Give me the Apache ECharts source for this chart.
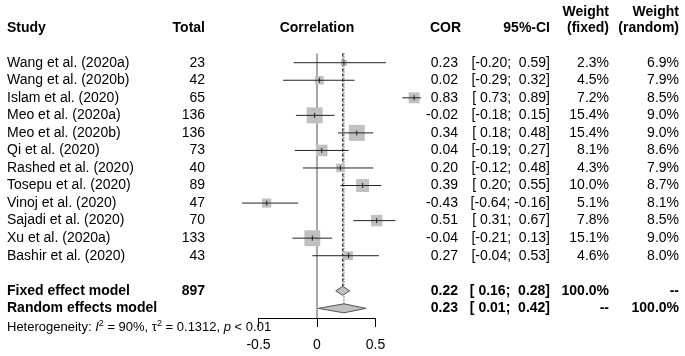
<!DOCTYPE html>
<html>
<head>
<meta charset="utf-8">
<script src="https://cdn.jsdelivr.net/npm/echarts@6/dist/echarts.min.js"></script>
<style>
html, body { margin: 0; padding: 0; background: #fff; }
#chart { width: 685px; height: 356px; }
</style>
</head>
<body>
<div id="chart"></div>
<script>
// values
var studies = ['Wang et al. (2020a)', 'Wang et al. (2020b)', 'Islam et al. (2020)', 'Meo et al. (2020a)',
  'Meo et al. (2020b)', 'Qi et al. (2020)', 'Rashed et al. (2020)', 'Tosepu et al. (2020)',
  'Vinoj et al. (2020)', 'Sajadi et al. (2020)', 'Xu et al. (2020a)', 'Bashir et al. (2020)']
var totals = [23, 42, 65, 136, 136, 73, 40, 89, 47, 70, 133, 43]
var cor = [0.23, 0.02, 0.83, -0.02, 0.34, 0.04, 0.20, 0.39, -0.43, 0.51, -0.04, 0.27]
var ciLow = [-0.20, -0.29, 0.73, -0.18, 0.18, -0.19, -0.12, 0.20, -0.64, 0.31, -0.21, -0.04]
var ciHigh = [0.59, 0.32, 0.89, 0.15, 0.48, 0.27, 0.48, 0.55, -0.16, 0.67, 0.13, 0.53]
var wFixed = [2.3, 4.5, 7.2, 15.4, 15.4, 8.1, 4.3, 10.0, 5.1, 7.8, 15.1, 4.6]
var wRandom = [6.9, 7.9, 8.5, 9.0, 9.0, 8.6, 7.9, 8.7, 8.1, 8.5, 9.0, 8.0]

var pooledLabels = ['Fixed effect model', 'Random effects model']
var pooledTotal = [897, null]
var pooledCor = [0.22, 0.23]
var pooledLow = [0.16, 0.01]
var pooledHigh = [0.28, 0.42]
var pooledWFixed = [100, null]
var pooledWRandom = [null, 100]

var hetI2 = 90
var hetTau2 = 0.1312
var hetP = '< 0.01'

var xTicks = [-0.5, 0, 0.5]

var FONT = '"Liberation Sans", Arial, Helvetica, sans-serif'
var boxScale = 4.08
var fixedRow = studies.length + 1
var randomRow = studies.length + 2

function f2(v) { return v.toFixed(2) }
function ci(lo, hi) {
  var a = lo < 0 ? f2(lo) : ' ' + f2(lo)
  var b = hi < 0 ? f2(hi) : ' ' + f2(hi)
  return '[' + a + '; ' + b + ']'
}
function pct(v) { return v == null ? '--' : v.toFixed(1) + '%' }

// text table (columns: study, total, cor, ci, weight fixed, weight random)
var cols = [
  { x: 7, align: 'left' },
  { x: 205, align: 'right' },
  { x: 458, align: 'right' },
  { x: 550, align: 'right' },
  { x: 609, align: 'right' },
  { x: 679, align: 'right' }
]
var table = []
studies.forEach(function (s, i) {
  table.push({ row: i, bold: false, cells: [s, String(totals[i]), f2(cor[i]), ci(ciLow[i], ciHigh[i]), pct(wFixed[i]), pct(wRandom[i])] })
})
pooledLabels.forEach(function (s, k) {
  table.push({ row: studies.length + 1 + k, bold: true,
    cells: [s, pooledTotal[k] == null ? '' : String(pooledTotal[k]), f2(pooledCor[k]), ci(pooledLow[k], pooledHigh[k]), pct(pooledWFixed[k]), pct(pooledWRandom[k])] })
})

function txt(x, y, s, align, bold, size) {
  return {
    type: 'text', x: x, y: y,
    style: {
      text: s, fill: '#000', fontSize: size || 14, fontFamily: FONT, fontWeight: bold ? 'bold' : 'normal',
      align: align, textAlign: align, verticalAlign: 'middle', textVerticalAlign: 'middle'
    }
  }
}

function renderRefLines(params, api) {
  var top = api.coord([0, -0.53])[1]
  var x0 = api.coord([0, 0])[0]
  var bottom = api.coord([0, 14.55])[1]
  var xf = api.coord([pooledCor[0], 0])[0]
  var xr = api.coord([pooledCor[1], 0])[0]
  var yf = api.coord([0, fixedRow])[1]
  var yr = api.coord([0, randomRow])[1]
  return { type: 'group', children: [
    { type: 'line', shape: { x1: x0, y1: top, x2: x0, y2: bottom }, style: { stroke: '#6e6e6e', lineWidth: 1.2 } },
    { type: 'line', shape: { x1: xf, y1: top, x2: xf, y2: yf }, style: { stroke: '#111', lineWidth: 1.1, lineDash: [3, 2] } },
    { type: 'line', shape: { x1: xr, y1: top, x2: xr, y2: yr }, style: { stroke: '#111', lineWidth: 1.1, lineDash: [1, 2] } }
  ] }
}

function renderStudy(params, api) {
  var row = api.value(1)
  var p = api.coord([api.value(0), row])
  var lo = api.coord([api.value(2), row])[0]
  var hi = api.coord([api.value(3), row])[0]
  var side = boxScale * Math.sqrt(api.value(4))
  return { type: 'group', children: [
    { type: 'rect', shape: { x: p[0] - side / 2, y: p[1] - side / 2, width: side, height: side }, style: { fill: '#c0c0c0' } },
    { type: 'line', shape: { x1: lo, y1: p[1], x2: hi, y2: p[1] }, style: { stroke: '#222', lineWidth: 1 } },
    { type: 'line', shape: { x1: p[0], y1: p[1] - 2.5, x2: p[0], y2: p[1] + 2.5 }, style: { stroke: '#222', lineWidth: 1 } }
  ] }
}

function renderDiamond(params, api) {
  var row = api.value(1)
  var c = api.coord([api.value(0), row])
  var lo = api.coord([api.value(2), row])[0]
  var hi = api.coord([api.value(3), row])[0]
  var h = 4.5
  return {
    type: 'polygon',
    shape: { points: [[lo, c[1]], [c[0], c[1] - h], [hi, c[1]], [c[0], c[1] + h]] },
    style: { fill: '#c0c0c0', stroke: '#555', lineWidth: 1 }
  }
}

function renderTable(params, api) {
  var r = table[params.dataIndex]
  var y = api.coord([0, r.row])[1]
  var kids = r.cells.map(function (s, j) {
    return txt(cols[j].x, y, s, cols[j].align, r.bold)
  })
  return { type: 'group', children: kids }
}

function renderHeader(params, api) {
  var y = api.coord([0, -1.95])[1]
  var yw = api.coord([0, -2.9])[1]
  var yh = api.coord([0, randomRow + 1.06])[1]
  var het = 'Heterogeneity: {i|I}{s|2}{n| = ' + hetI2 + '%, τ}{s|2}{n| = ' + hetTau2 + ', }{i|p}{n| ' + hetP + '}'
  return { type: 'group', children: [
    txt(7, y, 'Study', 'left', true),
    txt(205, y, 'Total', 'right', true),
    txt(api.coord([0, 0])[0], y, 'Correlation', 'center', true),
    txt(461, y, 'COR', 'right', true),
    txt(550, y, '95%-CI', 'right', true),
    txt(609, yw, 'Weight', 'right', true),
    txt(609, y, '(fixed)', 'right', true),
    txt(679, yw, 'Weight', 'right', true),
    txt(679, y, '(random)', 'right', true),
    {
      type: 'text', x: 7, y: yh,
      style: {
        text: het, fill: '#000', fontSize: 13, fontFamily: FONT,
        align: 'left', textAlign: 'left', verticalAlign: 'middle', textVerticalAlign: 'middle',
        rich: {
          n: { fontSize: 13, fontFamily: FONT, lineHeight: 15 },
          i: { fontSize: 13, fontFamily: FONT, fontStyle: 'italic', lineHeight: 15 },
          s: { fontSize: 9, fontFamily: FONT, verticalAlign: 'top', lineHeight: 9 }
        }
      }
    }
  ] }
}

var chart = echarts.init(document.getElementById('chart'))
chart.setOption({
  backgroundColor: '#fff',
  animation: false,
  grid: { left: 258.5, right: 309.5, top: 1.3, bottom: 38 },
  xAxis: {
    type: 'value',
    min: xTicks[0],
    max: xTicks[xTicks.length - 1],
    interval: xTicks[1] - xTicks[0],
    splitLine: { show: false },
    axisLine: { onZero: false, lineStyle: { color: '#000', width: 1 } },
    axisTick: { length: 9, lineStyle: { color: '#000' } },
    axisLabel: { color: '#000', fontSize: 14, fontFamily: FONT, margin: 20 }
  },
  yAxis: { type: 'value', inverse: true, min: -3.5, max: 14.55, show: false },
  series: [
    { type: 'custom', clip: false, z: 1, renderItem: renderRefLines, data: [[0, 0]] },
    { type: 'custom', clip: false, z: 2, renderItem: renderStudy,
      data: studies.map(function (s, i) { return [cor[i], i, ciLow[i], ciHigh[i], wFixed[i]] }) },
    { type: 'custom', clip: false, z: 3, renderItem: renderDiamond,
      data: pooledCor.map(function (c, k) { return [c, studies.length + 1 + k, pooledLow[k], pooledHigh[k]] }) },
    { type: 'custom', clip: false, z: 4, renderItem: renderTable,
      data: table.map(function (r) { return [0, r.row] }) },
    { type: 'custom', clip: false, z: 4, renderItem: renderHeader, data: [[0, 0]] }
  ]
})
</script>
</body>
</html>
